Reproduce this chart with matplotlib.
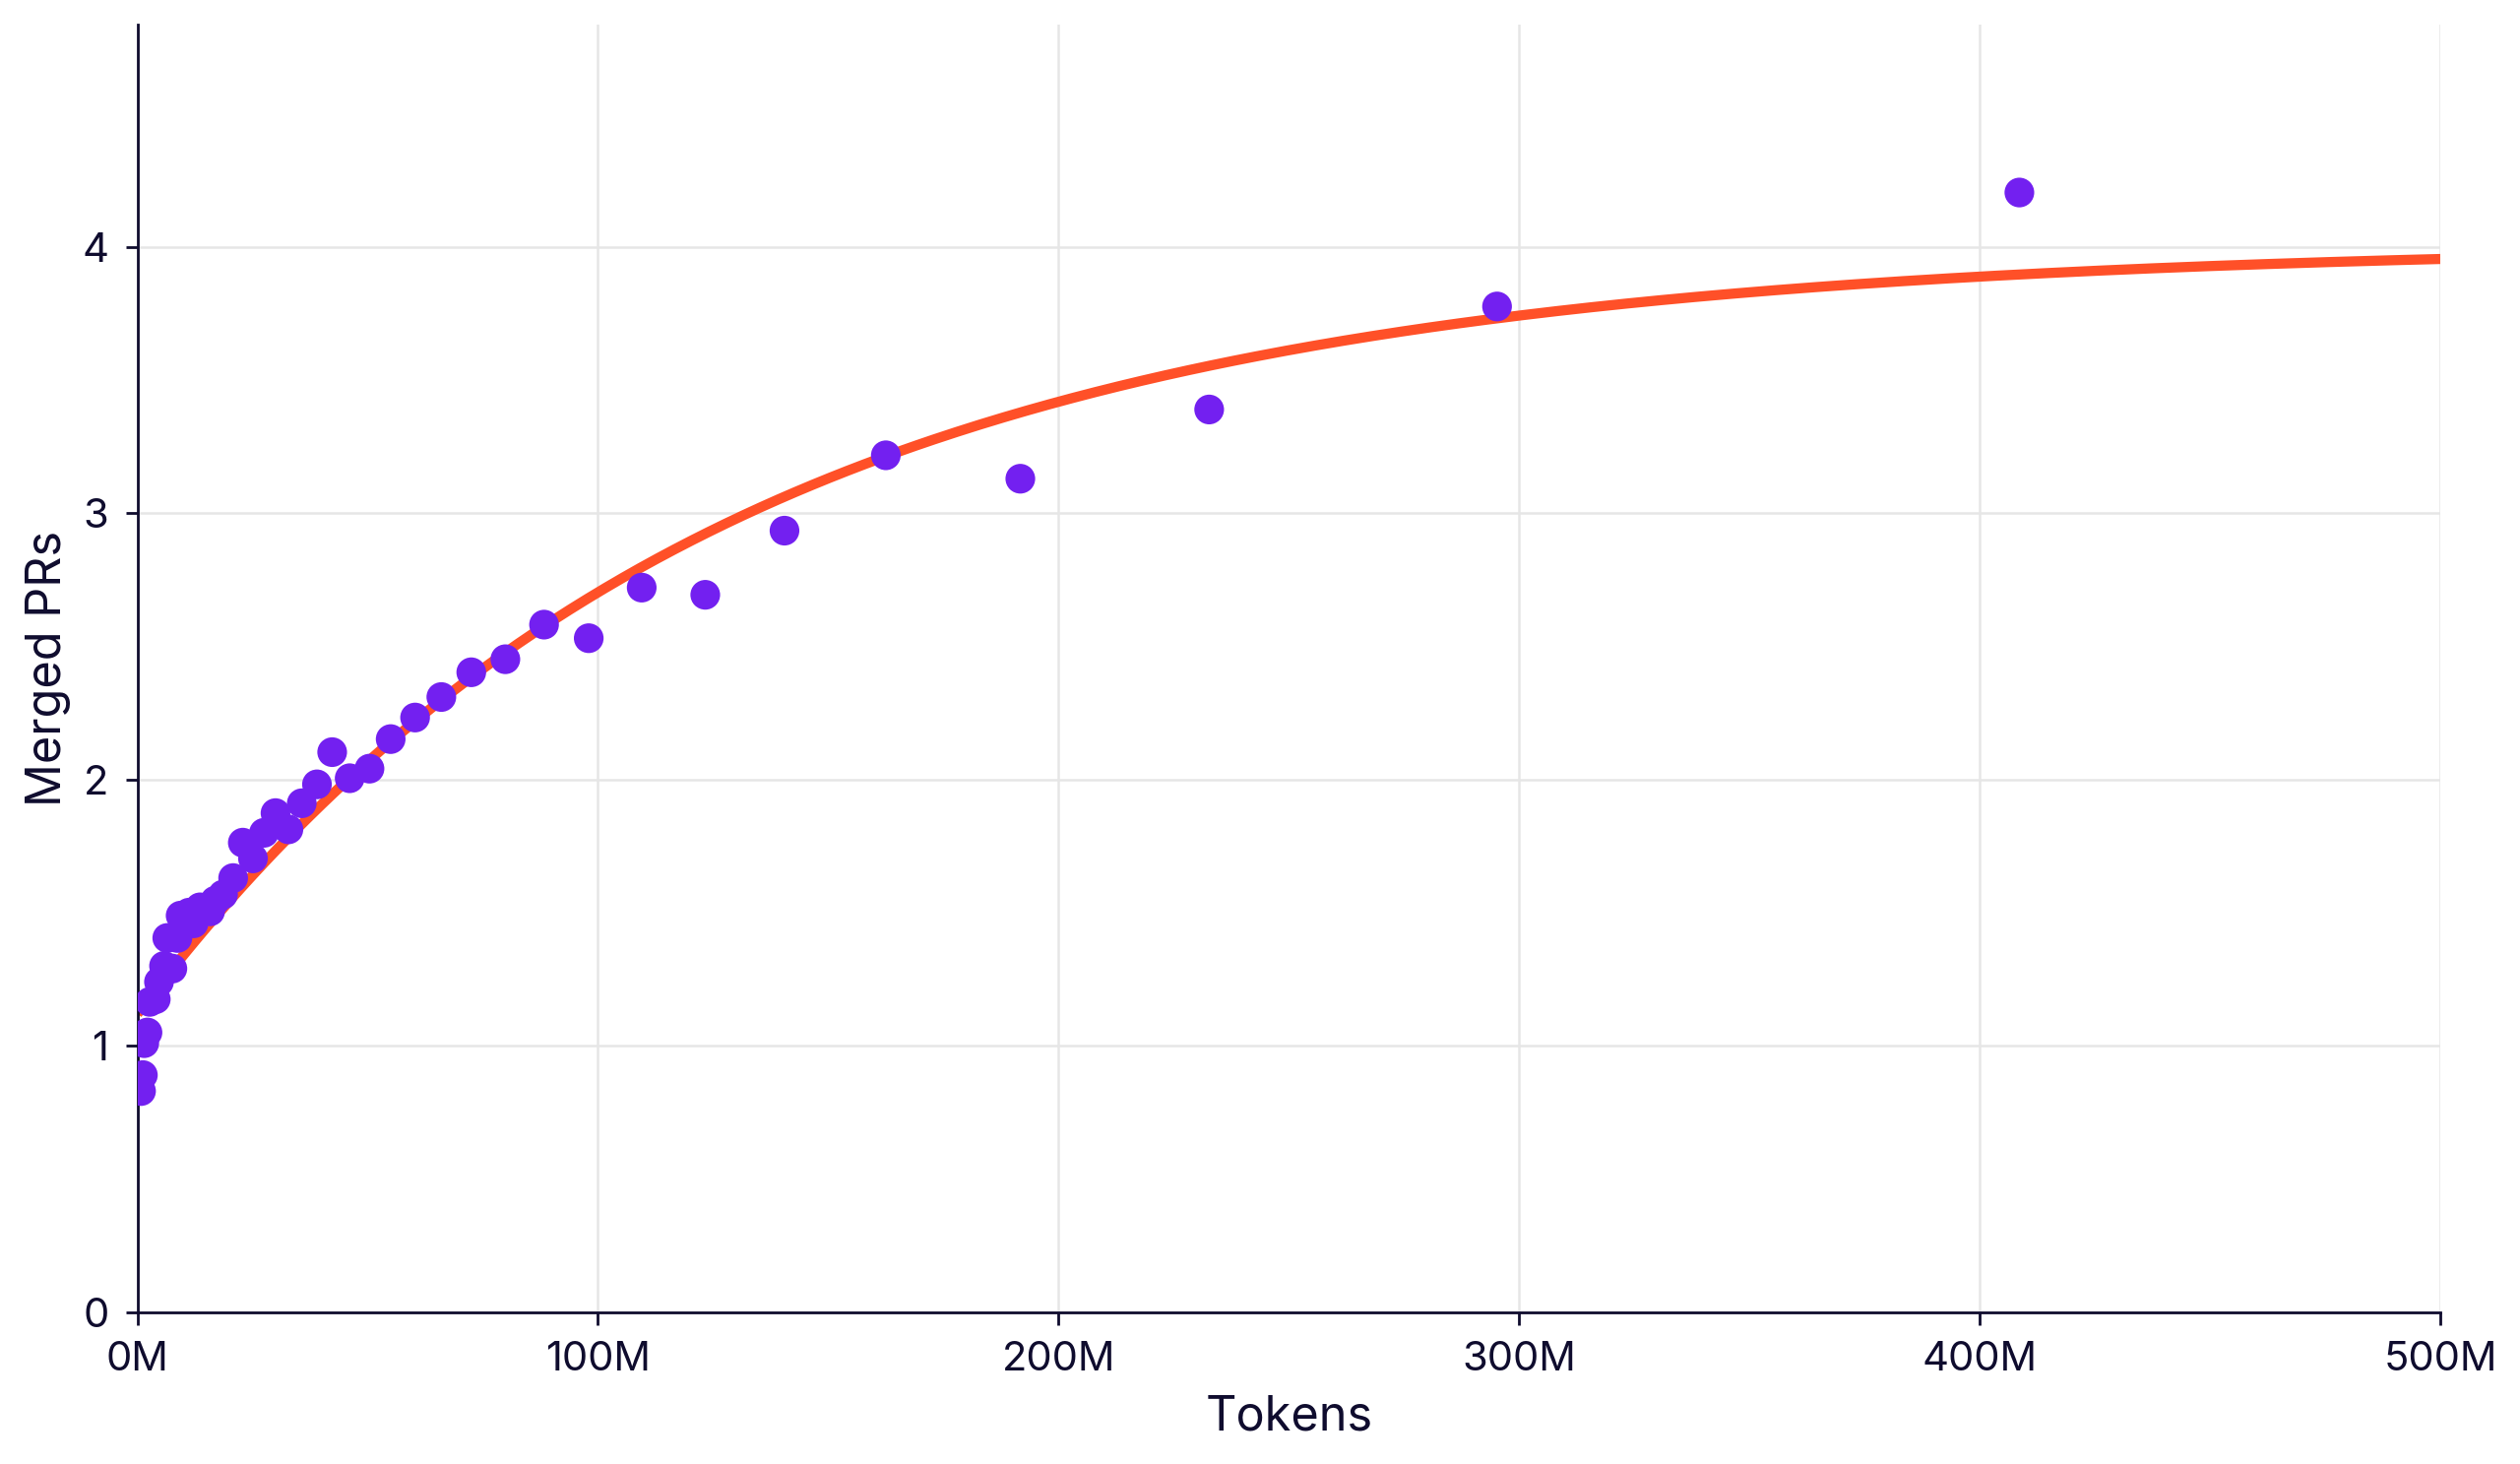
import numpy as np
import matplotlib
matplotlib.use("Agg")
import matplotlib.pyplot as plt
from matplotlib.ticker import FuncFormatter

plt.rcParams['font.family'] = ['Inter', 'DejaVu Sans']

# Observed data (tokens in millions, merged PRs)
tokens_m = [0.8, 1.2, 1.5, 2.2, 2.7, 4.0, 4.7, 5.8, 7.6, 6.5, 8.7, 9.4, 10.4, 11.2,
            12.2, 13.6, 15.8, 16.9, 18.6, 20.8, 22.9, 25.1, 27.5, 30.0, 32.8, 35.7,
            39.0, 42.3, 46.1, 50.4, 55.0, 60.3, 66.0, 72.5, 79.9, 88.3, 98.0, 109.5,
            123.3, 140.5, 162.5, 191.7, 232.7, 295.2, 408.6]
merged_prs = [0.83, 0.89, 1.01, 1.05, 1.165, 1.175, 1.24, 1.30, 1.29, 1.405, 1.405, 1.489,
              1.467, 1.50, 1.46, 1.52, 1.505, 1.545, 1.568, 1.63, 1.763, 1.704, 1.80, 1.874,
              1.813, 1.911, 1.982, 2.103, 2.005, 2.041, 2.152, 2.233, 2.31, 2.403, 2.452,
              2.582, 2.531, 2.721, 2.694, 2.935, 3.218, 3.130, 3.39, 3.777, 4.205]

# Fitted saturating curve parameters
fit_plateau = 4.01
fit_start = 1.12
fit_scale_m = 126.0

x_ticks_m = [0, 100, 200, 300, 400, 500]
y_ticks = [0, 1, 2, 3, 4]

INK = '#0F0C2E'
PURPLE = '#7320F0'
ORANGE = '#FF5028'
GRID = '#E6E6E6'

fig = plt.figure(figsize=(12.8, 7.435), dpi=200)
ax = fig.add_axes([0.0545, 0.1038, 0.9139, 0.8794])

xs = np.linspace(0, x_ticks_m[-1], 400)
ys = fit_plateau - (fit_plateau - fit_start) * np.exp(-xs / fit_scale_m)
ax.plot(np.array(xs) * 1e6, ys, color=ORANGE, lw=3.7, zorder=2, solid_capstyle='butt')

ax.scatter(np.array(tokens_m) * 1e6, merged_prs, s=118, color=PURPLE, edgecolors='none', zorder=3)

ax.set_xlim(0, 500e6)
ax.set_ylim(0, max(merged_prs) * 1.15)
ax.set_xticks([t * 1e6 for t in x_ticks_m])
ax.set_yticks(y_ticks)
ax.xaxis.set_major_formatter(FuncFormatter(lambda v, p: f"{v/1e6:.0f}M"))

ax.grid(True, color=GRID, lw=0.9)
ax.set_axisbelow(True)
for s in ['top', 'right']:
    ax.spines[s].set_visible(False)
for s in ['left', 'bottom']:
    ax.spines[s].set_color(INK)
    ax.spines[s].set_linewidth(1.0)

ax.tick_params(axis='both', colors=INK, labelsize=15, length=4.5, width=1.0, pad=6)
ax.set_xlabel('Tokens', fontsize=17.5, color=INK, labelpad=6)
ax.set_ylabel('Merged PRs', fontsize=17.5, color=INK, labelpad=4)

fig.savefig('out.png', dpi=200, facecolor='white')
